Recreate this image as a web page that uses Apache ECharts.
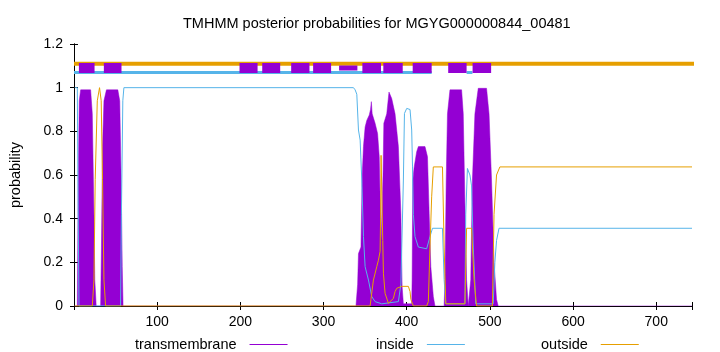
<!DOCTYPE html>
<html>
<head>
<meta charset="utf-8">
<script src="https://cdn.jsdelivr.net/npm/echarts@6/dist/echarts.min.js"></script>
<style>
html, body { margin: 0; padding: 0; background: #fff; }
#chart { width: 720px; height: 352px; }
</style>
</head>
<body>
<div id="chart"></div>
<script>
// sequence length (x axis end)
var seqLength = 743;

// posterior probabilities: [residue, probability]
var tmProb = [
  [0, 0], [4, 0], [5.1, 0.58], [6.3, 0.94], [8, 0.99], [20, 0.99], [22, 0.88], [24, 0.42], [25, 0.12], [26.7, 0],
  [32, 0], [33, 0.27], [34.3, 0.73], [36, 0.94], [39, 0.99], [52.7, 0.99], [55, 0.94], [56.7, 0.58], [58, 0.18], [59, 0],
  [339, 0], [341, 0.1], [342, 0.24], [345, 0.27], [346.5, 0.6], [348, 0.73], [350, 0.82], [352, 0.85], [355, 0.875],
  [356.5, 0.9], [357.5, 0.936], [358.5, 0.88], [362, 0.837], [365, 0.79], [367, 0.684], [368, 0.5], [369.3, 0.3],
  [370.6, 0.3], [371.5, 0.6], [372.5, 0.837], [376, 0.88], [378.7, 0.98], [382, 0.95], [386, 0.88], [390, 0.73],
  [393, 0.424], [394.5, 0.088], [396, 0.01], [406, 0.01], [406.5, 0.119], [407.3, 0.577], [409, 0.637], [412, 0.707],
  [414, 0.73], [422, 0.73], [425, 0.684], [427, 0.424], [429, 0.18], [432, 0.043], [434, 0],
  [445, 0], [446, 0.12], [447.5, 0.577], [449, 0.88], [452, 0.99], [466, 0.99], [468, 0.88], [470, 0.47], [472, 0.12], [474, 0],
  [475, 0], [477, 0.12], [479, 0.577], [482, 0.88], [486, 0.997], [496, 0.997], [499, 0.88], [502, 0.577], [505, 0.2],
  [508, 0.03], [510, 0], [743, 0]
];
var insideProb = [
  [1, 1], [4, 1], [4.7, 0.58], [6, 0], [56, 0], [57, 0.42], [58.7, 0.94], [60, 1], [336, 1], [338, 0.99], [340, 0.97],
  [342, 0.806], [344, 0.76], [346, 0.577], [348, 0.318], [350, 0.18], [354, 0.119], [358, 0.043], [362, 0.02], [370, 0.01],
  [390, 0.02], [393, 0.1], [396, 0.577], [397.3, 0.882], [400, 0.905], [404, 0.9], [406, 0.806], [407, 0.637], [408, 0.42],
  [410, 0.318], [414, 0.27], [424, 0.262], [428, 0.318], [431, 0.356], [443, 0.356], [445, 0.12], [447, 0.01], [470, 0.01],
  [471, 0.42], [473, 0.63], [476, 0.6], [478, 0.55], [480, 0.27], [483, 0.01], [504, 0.01], [506, 0.2], [508, 0.3],
  [511, 0.356], [743, 0.356]
];
var outsideProb = [
  [1, 0], [22, 0], [24, 0.12], [25.5, 0.58], [28, 0.94], [30.7, 1.0], [32.7, 0.94], [34.3, 0.58], [36, 0.12], [38, 0],
  [356, 0], [357, 0.03], [360, 0.119], [364, 0.18], [366, 0.21], [368, 0.25], [368.6, 0.4], [369.2, 0.69], [370.6, 0.69],
  [371.2, 0.3], [372, 0.15], [374, 0.058], [378, 0.012], [384, 0.035], [386, 0.066], [388, 0.081], [394, 0.09], [402, 0.09],
  [404, 0.066], [405, 0.03], [408, 0], [424, 0], [426, 0.02], [428, 0.27], [430, 0.5], [432, 0.637], [443, 0.637],
  [445, 0.27], [447, 0.01], [470, 0.01], [472, 0.356], [478, 0.356], [481, 0.12], [484, 0], [503, 0], [505, 0.42],
  [508, 0.6], [512, 0.637], [743, 0.637]
];

// predicted topology bars drawn above the curves: [start, end]
var tmSegments = [[5.9, 24.7], [35.9, 57.1], [199, 220.7], [226.3, 247.9], [261.1, 283.1], [287.5, 309.1],
  [346.7, 369.1], [371.9, 395.2], [407.2, 430], [449.9, 472], [479.2, 501.5]];
var tmSegmentsThin = [[318.7, 340.7]];
var insideSegments = [[0, 430], [472, 479]];
var outsideSegments = [[0, 780]];
var tmLevel = 1.09, insideLevel = 1.07, outsideLevel = 1.11;

var purple = '#9400D3', blue = '#56B4E9', orange = '#E69F00';

function segData(segs, level) {
  var out = [];
  for (var i = 0; i < segs.length; i++) {
    out.push([segs[i][0], level], [segs[i][1], level], [segs[i][1], '-']);
  }
  return out;
}

var font = 'Liberation Sans, Arial, sans-serif';
var chart = echarts.init(document.getElementById('chart'));

function topLine(data, color, width) {
  return {
    type: 'line', data: data, symbol: 'none', clip: false, silent: true,
    connectNulls: false, lineStyle: { color: color, width: width, cap: 'butt' }, z: 5
  };
}

function legendAt(name, left) {
  return {
    data: [name], left: left, top: 332, align: 'right', icon: 'rect',
    itemWidth: 38, itemHeight: 1, selectedMode: false,
    textStyle: { fontFamily: font, fontSize: 14.5, color: '#000', padding: [0, 8, 0, 0] }
  };
}

chart.setOption({
  animation: false,
  title: {
    text: 'TMHMM posterior probabilities for MGYG000000844_00481',
    left: 178, top: 11,
    textStyle: { fontFamily: font, fontSize: 14.5, fontWeight: 'normal', color: '#000' }
  },
  legend: [legendAt('transmembrane', 130), legendAt('inside', 371), legendAt('outside', 536)],
  grid: { left: 73, right: 28, top: 44, bottom: 46 },
  xAxis: [{
    type: 'value', min: 0, max: seqLength, interval: 100,
    axisLine: { lineStyle: { color: '#000' } },
    axisTick: { inside: true, length: 4, lineStyle: { color: '#000' } },
    axisLabel: {
      fontFamily: font, fontSize: 14, color: '#000', margin: 9,
      formatter: function (v) { return (v > 0 && v % 100 === 0) ? String(v) : ''; }
    },
    splitLine: { show: false }
  }, {
    type: 'value', position: 'top', min: 0, max: seqLength, interval: 100,
    axisLine: { lineStyle: { color: '#000' } },
    axisTick: { inside: true, length: 4, lineStyle: { color: '#000' } },
    axisLabel: { show: false }, splitLine: { show: false }
  }],
  yAxis: [{
    type: 'value', min: 0, max: 1.2, interval: 0.2,
    name: 'probability', nameLocation: 'middle', nameGap: 51,
    nameTextStyle: { fontFamily: font, fontSize: 14.5, color: '#000' },
    axisLine: { show: true, lineStyle: { color: '#000' } },
    axisTick: { inside: true, length: 4, lineStyle: { color: '#000' } },
    axisLabel: {
      fontFamily: font, fontSize: 14, color: '#000', margin: 11,
      formatter: function (v) { return String(Math.round(v * 10) / 10); }
    },
    splitLine: { show: false }
  }, {
    type: 'value', position: 'right', min: 0, max: 1.2, interval: 0.2,
    axisLine: { show: true, lineStyle: { color: '#000' } },
    axisTick: { inside: true, length: 4, lineStyle: { color: '#000' } },
    axisLabel: { show: false }, splitLine: { show: false }
  }],
  series: [
    {
      name: 'transmembrane', type: 'line', data: tmProb, symbol: 'none', color: purple,
      lineStyle: { color: purple, width: 0.5 },
      areaStyle: { color: purple, opacity: 1 }, z: 2
    },
    {
      name: 'inside', type: 'line', data: insideProb, symbol: 'none', color: blue,
      lineStyle: { color: blue, width: 1 }, z: 3
    },
    {
      name: 'outside', type: 'line', data: outsideProb, symbol: 'none', color: orange,
      lineStyle: { color: orange, width: 1 }, z: 4
    },
    topLine(segData(outsideSegments, outsideLevel), orange, 4),
    topLine(segData(insideSegments, insideLevel), blue, 3),
    topLine(segData(tmSegments, tmLevel), purple, 10),
    topLine(segData(tmSegmentsThin, tmLevel), purple, 5)
  ]
});
</script>
</body>
</html>
